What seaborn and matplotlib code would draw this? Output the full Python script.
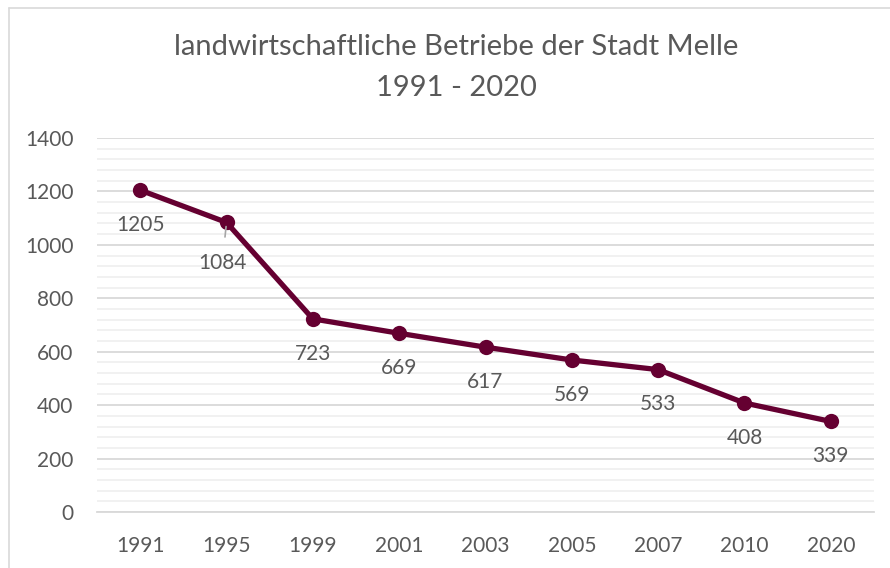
import matplotlib
matplotlib.use("Agg")
import matplotlib.pyplot as plt
import matplotlib.ticker as mticker
from matplotlib.lines import Line2D
import seaborn as sns
import pandas as pd

years = ["1991", "1995", "1999", "2001", "2003", "2005", "2007", "2010", "2020"]
betriebe = [1205, 1084, 723, 669, 617, 569, 533, 408, 339]
title_lines = ["landwirtschaftliche Betriebe der Stadt Melle", "1991 - 2020"]

sns.set_theme(style="white")
plt.rcParams["font.family"] = ["Lato", "DejaVu Sans"]

W, H = 890, 568
fig = plt.figure(figsize=(W / 100, H / 100), dpi=100)
ax = fig.add_axes([97 / W, (H - 512) / H, (874 - 97) / W, (512 - 138) / H])

df = pd.DataFrame({"Jahr": years, "Betriebe": betriebe})
line_col = "#650031"
text_col = "#595959"

ax.set_ylim(0, 1400)
ax.set_xlim(-0.5, len(years) - 0.5)
ax.yaxis.set_major_locator(mticker.MultipleLocator(200))
ax.yaxis.set_minor_locator(mticker.MultipleLocator(40))
ax.grid(which="major", axis="y", color="#d9d9d9", linewidth=1.3, zorder=0)
ax.grid(which="minor", axis="y", color="#f0f0f0", linewidth=1.3, zorder=0)
ax.set_axisbelow(True)

sns.lineplot(data=df, x="Jahr", y="Betriebe", sort=False, ax=ax, color=line_col,
             linewidth=3.8, marker="o", markersize=11, markeredgewidth=0, zorder=3)

for s in ["top", "right", "left"]:
    ax.spines[s].set_visible(False)
ax.spines["bottom"].set_color("#d9d9d9")
ax.spines["bottom"].set_linewidth(1.3)
ax.tick_params(axis="both", which="both", length=0, labelsize=15, labelcolor=text_col)
ax.tick_params(axis="y", pad=17)
ax.tick_params(axis="x", pad=17)
ax.set_xlabel("")
ax.set_ylabel("")

for i, v in enumerate(betriebe):
    if years[i] == "1995":
        ax.annotate(str(v), xy=(i, v), xytext=(-3, -29), textcoords="offset points",
                    ha="center", va="center", fontsize=15, color=text_col,
                    arrowprops=dict(arrowstyle="-", color="#a6a6a6", lw=1.2,
                                    shrinkA=9, shrinkB=3), zorder=4)
    else:
        ax.annotate(str(v), xy=(i, v), xytext=(0, -25), textcoords="offset points",
                    ha="center", va="center", fontsize=15, color=text_col, zorder=4)

fig.text(456 / W, 1 - 47 / H, title_lines[0], ha="center", va="center", fontsize=21,
         color=text_col)
fig.text(456 / W, 1 - 88 / H, title_lines[1], ha="center", va="center", fontsize=21,
         color=text_col)

fig.add_artist(Line2D([8.5 / W, 8.5 / W], [0, 1 - 7.5 / H], transform=fig.transFigure,
                      color="#d9d9d9", linewidth=1.2))
fig.add_artist(Line2D([8.5 / W, 1], [1 - 7.5 / H, 1 - 7.5 / H], transform=fig.transFigure,
                      color="#d9d9d9", linewidth=1.2))

fig.savefig("out.png", dpi=100)
